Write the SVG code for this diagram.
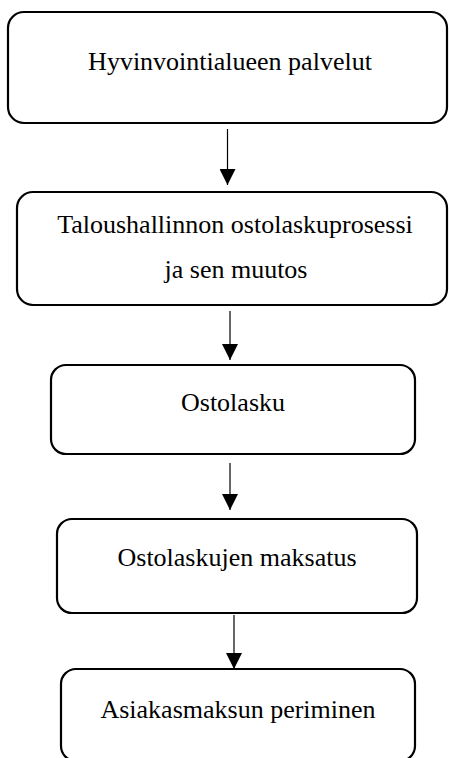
<svg xmlns="http://www.w3.org/2000/svg" width="449" height="758" viewBox="0 0 449 758">
<style>
.box{fill:#fff;stroke:#000;stroke-width:2.2}
.lbl{font-family:"Liberation Serif","Times New Roman",serif;font-size:26px;fill:#000;text-anchor:middle}
.edge{stroke:#000;stroke-width:1.2;fill:none}
</style>
<defs>
<marker id="ah" markerUnits="userSpaceOnUse" markerWidth="16" markerHeight="16" viewBox="0 0 16 16" refX="16" refY="8" orient="auto">
<path d="M0,0 L16,8 L0,16 Z" fill="#000"/>
</marker>
</defs>
<rect width="449" height="758" fill="#fff"/>
<g id="connectors">
<line class="edge" x1="227.5" y1="129" x2="227.5" y2="185" marker-end="url(#ah)"/>
<line class="edge" x1="230" y1="311" x2="230" y2="360" marker-end="url(#ah)"/>
<line class="edge" x1="230" y1="463" x2="230" y2="510" marker-end="url(#ah)"/>
<line class="edge" x1="234" y1="615" x2="234" y2="669" marker-end="url(#ah)"/>
</g>
<g id="n1">
<rect class="box" x="8" y="12" width="439" height="111" rx="16"/>
<text class="lbl" x="230" y="70">Hyvinvointialueen palvelut</text>
</g>
<g id="n2">
<rect class="box" x="17" y="192" width="430" height="113" rx="16"/>
<text class="lbl" x="235" y="233">Taloushallinnon ostolaskuprosessi</text>
<text class="lbl" x="236" y="278">ja sen muutos</text>
</g>
<g id="n3">
<rect class="box" x="51" y="365" width="364" height="89" rx="15"/>
<text class="lbl" x="233" y="411">Ostolasku</text>
</g>
<g id="n4">
<rect class="box" x="57" y="519" width="360" height="94" rx="15"/>
<text class="lbl" x="237" y="566">Ostolaskujen maksatus</text>
</g>
<g id="n5">
<rect class="box" x="61" y="669" width="354" height="92" rx="15"/>
<text class="lbl" x="238" y="718">Asiakasmaksun periminen</text>
</g>
</svg>
